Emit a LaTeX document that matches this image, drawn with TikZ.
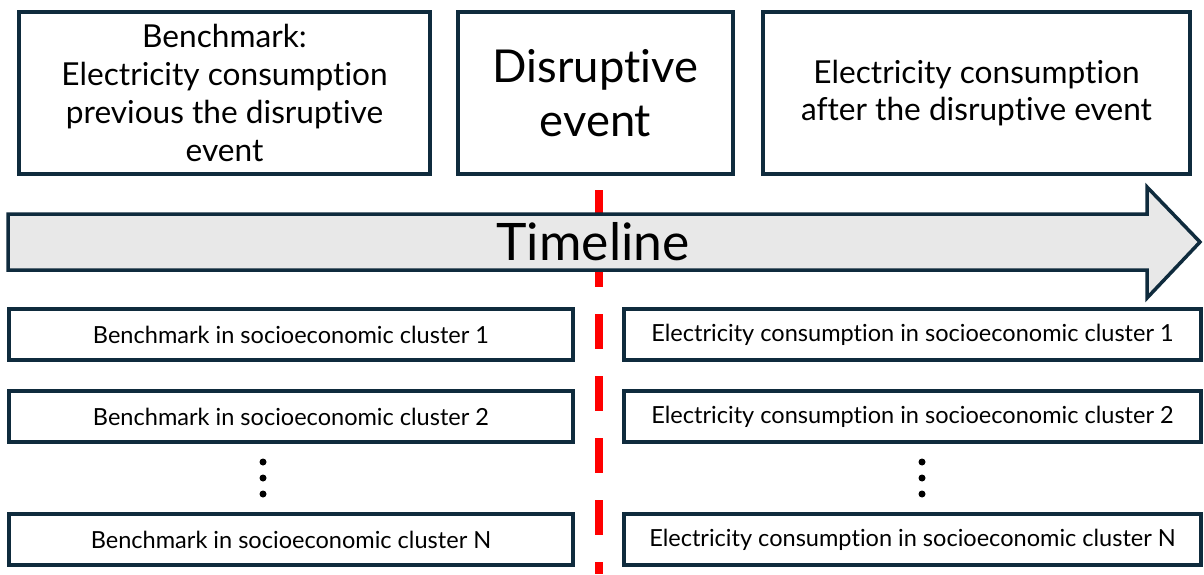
\documentclass[tikz,border=0pt]{standalone}
\usepackage{fontspec}
\setmainfont{Lato}[Ligatures=NoCommon]
\usetikzlibrary{positioning}
\definecolor{boxline}{HTML}{0F2B3D}
\definecolor{cutred}{HTML}{FF0000}
\tikzset{
  stage/.style={rectangle, draw=boxline, line width=.07cm, fill=white, align=center, inner sep=0pt, minimum height=3.24cm},
  cluster/.style={rectangle, draw=boxline, line width=.07cm, fill=white, inner sep=0pt, minimum height=1.02cm, font=\fontsize{13.4}{16}\selectfont},
  leftcluster/.style={cluster, minimum width=11.28cm},
  rightcluster/.style={cluster, minimum width=11.54cm},
  dot/.style={circle, fill=black, inner sep=0pt, minimum size=.14cm}
}
\begin{document}
\begin{tikzpicture}
\useasboundingbox (0,0) rectangle (24.08cm,11.48cm);

% the disruptive event cut
\coordinate (cut top) at (11.98cm,7.68cm);
\coordinate (cut bottom) at (11.98cm,0cm);
\draw [cutred, line width=.16cm, dash pattern=on .7cm off .54cm] (cut top) -- (cut bottom);

% stages
\node (before) at(4.49cm,9.62cm) [stage, minimum width=8.22cm, font=\fontsize{18}{21.7}\selectfont] {Benchmark:\\Electricity consumption\\previous the disruptive\\event};
\node (event) at(11.91cm,9.62cm) [stage, minimum width=5.5cm, font=\fontsize{25.8}{30.6}\selectfont] {Disruptive\\event};
\node (after) at(19.53cm,9.62cm) [stage, minimum width=8.54cm, font=\fontsize{18}{21.2}\selectfont] {Electricity consumption\\after the disruptive event};

%-----------------------------------------------------
\draw [draw=boxline, fill=gray!18, line width=.07cm, line join=miter]
  (.16cm,7.2cm) -- (22.94cm,7.2cm) -- (22.94cm,7.74cm) -- (24cm,6.64cm)
  -- (22.94cm,5.52cm) -- (22.94cm,6.08cm) -- (.16cm,6.08cm) -- cycle;
\node (timeline) at(11.86cm,6.64cm) [font=\fontsize{29.4}{34}\selectfont] {Timeline};

%-----------------------------------------------------
\node (bench 1) at(5.82cm,4.79cm) [leftcluster] {Benchmark in socioeconomic cluster 1};
\node (bench 2) at(5.82cm,3.15cm) [leftcluster] {Benchmark in socioeconomic cluster 2};
\node (bench N) at(5.82cm,.69cm) [leftcluster] {Benchmark in socioeconomic cluster N};

\node (cons 1) at(18.25cm,4.79cm) [rightcluster] {Electricity consumption in socioeconomic cluster 1};
\node (cons 2) at(18.25cm,3.15cm) [rightcluster] {Electricity consumption in socioeconomic cluster 2};
\node (cons N) at(18.25cm,.69cm) [rightcluster] {Electricity consumption in socioeconomic cluster N};

\foreach \y/\k in {2.24/a,1.92/b,1.6/c}{
  \node (bench dot \k) at(5.26cm,\y cm) [dot] {};
  \node (cons dot \k) at(18.44cm,\y cm) [dot] {};
}

\end{tikzpicture}
\end{document}
